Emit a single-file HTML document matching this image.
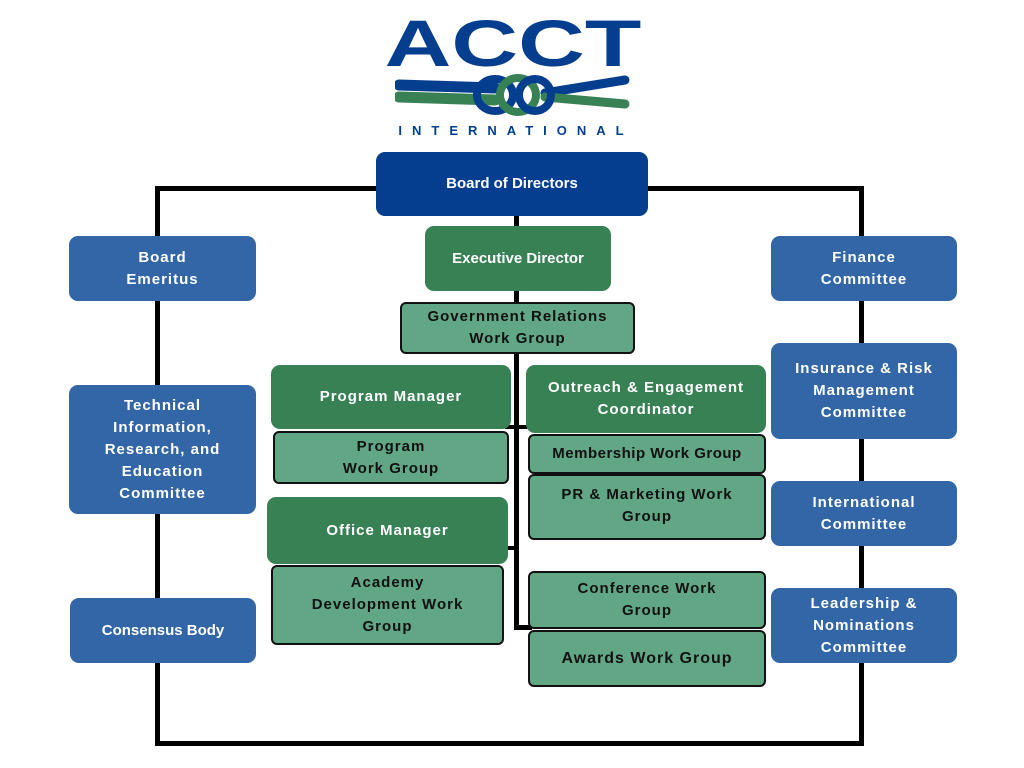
<!DOCTYPE html>
<html><head><meta charset="utf-8"><style>
body{margin:0;width:1024px;height:768px;background:#fff;position:relative;overflow:hidden;font-family:"Liberation Sans",sans-serif;}
.b{position:absolute;display:flex;align-items:center;justify-content:center;text-align:center;font-weight:bold;font-size:15px;letter-spacing:1px;line-height:22px;box-sizing:border-box;}
.blue{background:#3366a6;color:#fff;border-radius:9px;}
.dg{background:#388155;color:#fff;border-radius:9px;}
.lg{background:#62a785;color:#111;border:2px solid #111;border-radius:6px;}
.l{position:absolute;background:#000;}
</style></head><body>
<!-- lines -->
<div class="l" style="left:155px;top:186px;width:708px;height:5px"></div>
<div class="l" style="left:155px;top:186px;width:5px;height:560px"></div>
<div class="l" style="left:859px;top:186px;width:5px;height:560px"></div>
<div class="l" style="left:160px;top:741px;width:704px;height:5px"></div>
<div class="l" style="left:514px;top:210px;width:5px;height:420px"></div>
<div class="l" style="left:514px;top:625px;width:18px;height:5px"></div>
<div class="l" style="left:505px;top:425px;width:25px;height:4px"></div>
<div class="l" style="left:503px;top:546px;width:14px;height:4px"></div>

<!-- logo -->
<div style="position:absolute;left:388px;top:12px;width:250px;text-align:center;font-weight:bold;font-size:66px;line-height:62px;color:#053e8e;transform:scaleX(1.4);transform-origin:center">ACCT</div>
<svg style="position:absolute;left:395px;top:73px" width="240" height="44">
<path d="M4 12 L100 15" stroke="#053e8e" stroke-width="11" stroke-linecap="round"/>
<path d="M4 24 L100 27" stroke="#388155" stroke-width="11" stroke-linecap="round"/>
<path d="M150 20 L230 7" stroke="#053e8e" stroke-width="9" stroke-linecap="round"/>
<path d="M150 24 L230 31" stroke="#388155" stroke-width="9" stroke-linecap="round"/>
<ellipse cx="100" cy="22" rx="18" ry="16" fill="none" stroke="#053e8e" stroke-width="8"/>
<ellipse cx="123" cy="22" rx="18" ry="17" fill="none" stroke="#388155" stroke-width="8"/>
<ellipse cx="140" cy="22" rx="16" ry="16" fill="none" stroke="#053e8e" stroke-width="8"/>
</svg>
<div style="position:absolute;left:396px;top:123px;width:240px;text-align:center;font-weight:bold;font-size:13px;letter-spacing:10px;color:#053e8e">INTERNATIONAL</div>

<div class="b" style="left:376px;top:152px;width:272px;height:64px;background:#053e8e;color:#fff;border-radius:9px;letter-spacing:0">Board of Directors</div>

<div class="b blue" style="left:69px;top:236px;width:187px;height:65px">Board<br>Emeritus</div>
<div class="b blue" style="left:69px;top:385px;width:187px;height:129px">Technical<br>Information,<br>Research, and<br>Education<br>Committee</div>
<div class="b blue" style="left:70px;top:598px;width:186px;height:65px;letter-spacing:0">Consensus Body</div>
<div class="b blue" style="left:771px;top:236px;width:186px;height:65px">Finance<br>Committee</div>
<div class="b blue" style="left:771px;top:343px;width:186px;height:96px">Insurance &amp; Risk<br>Management<br>Committee</div>
<div class="b blue" style="left:771px;top:481px;width:186px;height:65px">International<br>Committee</div>
<div class="b blue" style="left:771px;top:588px;width:186px;height:75px">Leadership &amp;<br>Nominations<br>Committee</div>

<div class="b dg" style="left:425px;top:226px;width:186px;height:65px;letter-spacing:0">Executive Director</div>
<div class="b lg" style="left:400px;top:302px;width:235px;height:52px">Government Relations<br>Work Group</div>
<div class="b dg" style="left:271px;top:365px;width:240px;height:64px">Program Manager</div>
<div class="b lg" style="left:273px;top:431px;width:236px;height:53px">Program<br>Work Group</div>
<div class="b dg" style="left:267px;top:497px;width:241px;height:67px">Office Manager</div>
<div class="b lg" style="left:271px;top:565px;width:233px;height:80px">Academy<br>Development Work<br>Group</div>
<div class="b dg" style="left:526px;top:365px;width:240px;height:68px">Outreach &amp; Engagement<br>Coordinator</div>
<div class="b lg" style="left:528px;top:434px;width:238px;height:40px;letter-spacing:0.5px">Membership Work Group</div>
<div class="b lg" style="left:528px;top:474px;width:238px;height:66px;align-items:flex-start;padding-top:8px">PR &amp; Marketing Work<br>Group</div>
<div class="b lg" style="left:528px;top:571px;width:238px;height:58px">Conference Work<br>Group</div>
<div class="b lg" style="left:528px;top:630px;width:238px;height:57px;font-size:16px">Awards Work Group</div>
</body></html>
